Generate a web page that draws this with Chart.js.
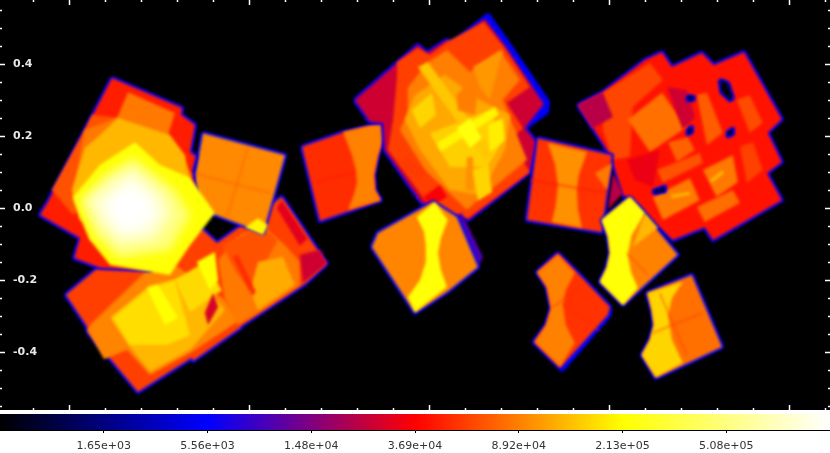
<!DOCTYPE html>
<html>
<head>
<meta charset="utf-8">
<script src="https://cdn.jsdelivr.net/npm/chart.js@4"></script>
<style>
html,body{margin:0;padding:0;background:#fff;overflow:hidden}
canvas{display:block}
#mapa{background:#000}
</style>
</head>
<body>
<canvas id="mapa" width="830" height="410"></canvas>
<canvas id="barra" width="830" height="43"></canvas>
<script>
// exposure map values, outlines are [ra, dec] in degrees, painted in list order
let raRange = [336.388, 338.694]
let decRange = [-0.561, 0.578]
let raTicks = [338.5, 338.0, 337.5, 337.0, 336.5]
let raMinorTicks = [338.6, 338.4, 338.3, 338.2, 338.1, 337.9, 337.8, 337.7, 337.6, 337.4, 337.3, 337.2, 337.1, 336.9, 336.8, 336.7, 336.6, 336.4]
let decTicks = [0.4, 0.2, 0.0, -0.2, -0.4]
let decMinorTicks = [0.55, 0.5, 0.45, 0.35, 0.3, 0.25, 0.15, 0.1, 0.05, -0.05, -0.1, -0.15, -0.25, -0.3, -0.35, -0.45, -0.5, -0.55]

let barPositions = [1, 2, 3, 4, 5, 6, 7]
let barValues = [1.65e3, 5.56e3, 1.48e4, 3.69e4, 8.92e4, 2.13e5, 5.08e5]
let barLabels = ["1.65e+03", "5.56e+03", "1.48e+04", "3.69e+04", "8.92e+04", "2.13e+05", "5.08e+05"]
let barColors = ["#000000", "#0000ff", "#ff0000", "#ffff00", "#ffffff"]

let EDGE = 5560
let westLowEdge = [[338.416,-.161],[338.511,-.241],[338.452,-.330],[338.450,-.344],[338.311,-.511],[338.161,-.416],[338.158,-.425],[338.027,-.333],[338.025,-.328],[337.847,-.211],[337.786,-.155],[337.911,.031],[337.925,.022],[338.091,-.097],[338.130,-.061],[338.250,-.061]]
let westLowExposure = [EDGE,57000,92000,130000,170000,215000,165000,215000,28000,85000,65000,120000,50000,26000,30000]
let westLowOutlines = [westLowEdge,westLowEdge,
[[338.444,-.325],[338.291,-.178],[338.208,-.158],[338.069,-.255],[338.027,-.311],[338.152,-.394],[338.277,-.464],[338.341,-.394],[338.405,-.420],[338.450,-.340]],
[[338.388,-.305],[338.277,-.214],[338.152,-.186],[338.069,-.283],[338.166,-.394],[338.277,-.455],[338.333,-.386]],
[[338.380,-.305],[338.286,-.228],[338.208,-.200],[338.166,-.353],[338.230,-.380],[338.333,-.380]],
[[338.286,-.222],[338.255,-.214],[338.199,-.305],[338.236,-.325]],
[[338.208,-.200],[338.125,-.150],[338.077,-.228],[338.166,-.289]],
[[338.147,-.150],[338.097,-.122],[338.088,-.200],[338.111,-.228]],
[[338.102,-.236],[338.088,-.275],[338.116,-.325],[338.125,-.291]],
[[338.027,-.075],[337.966,-.047],[337.902,-.103],[337.861,-.150],[337.861,-.214],[337.966,-.283],[338.033,-.325],[338.069,-.255],[338.088,-.144]],
[[338.077,-.103],[337.966,-.047],[337.922,-.089],[337.999,-.228],[338.041,-.172]],
[[337.977,-.150],[337.908,-.136],[337.875,-.214],[337.977,-.283],[337.999,-.228]],
[[338.047,-.136],[338.033,-.130],[337.983,-.233],[337.994,-.244]],
[[337.861,-.130],[337.805,-.116],[337.786,-.155],[337.852,-.208]],
[[337.925,.000],[337.911,.022],[337.840,-.085],[337.861,-.105]]]

let squareEdge = [[338.130,.208],[337.902,.147],[337.963,-.069],[338.166,.008]]
let squareExposure = [EDGE,95000,70000,70000,200000]
let squareOutlines = [squareEdge,squareEdge,
[[338.158,.097],[337.944,.042]],
[[338.005,.169],[338.063,-.025]],
[[338.013,-.053],[337.977,-.028],[337.950,-.047],[337.963,-.075]]]

let westHighEdge = [[338.383,.361],[338.188,.278],[338.191,.259],[338.152,.231],[338.166,.156],[338.150,.144],[338.161,.100],[338.138,-.005],[338.277,-.172],[338.416,-.166],[338.488,-.139],[338.472,-.083],[338.583,-.019],[338.561,.017]]
let westHighExposure = [EDGE,45000,65000,85000,130000,220000,500000,800000,1100000,1300000]
let westHighOutlines = [westHighEdge,westHighEdge,
[[338.438,.259],[338.361,.250],[338.444,.022],[338.491,-.019],[338.550,.050],[338.458,.217]],
[[338.338,.322],[338.208,.264],[338.227,.203],[338.161,.092],[338.222,-.089],[338.444,-.089],[338.494,.022],[338.458,.217],[338.369,.250]],
[[338.366,.250],[338.222,.203],[338.180,.147],[338.166,.064],[338.333,-.089],[338.472,-.033],[338.494,.050],[338.458,.167],[338.416,.203]],
[[338.319,.183],[338.250,.120],[338.166,.084],[338.097,-.014],[338.166,-.103],[338.222,-.186],[338.388,-.158],[338.444,-.089],[338.491,.031],[338.416,.120]],
[[338.324,.139],[338.208,.050],[338.166,-.019],[338.222,-.116],[338.361,-.139],[338.430,-.075],[338.472,.022],[338.402,.092]],
[[338.324,.111],[338.236,.036],[338.216,-.019],[338.263,-.089],[338.361,-.103],[338.416,-.047],[338.450,.022],[338.383,.078]],
[[338.330,.083],[338.263,.028],[338.250,-.019],[338.291,-.067],[338.355,-.075],[338.394,-.033],[338.416,.014]],
[[338.333,.056],[338.286,.017],[338.283,-.019],[338.319,-.047],[338.355,-.047],[338.380,-.011],[338.375,.022]]]

let sideEdge = [[337.855,.170],[337.744,.209],[337.633,.236],[337.625,.203],[337.644,.147],[337.655,.092],[337.652,.050],[337.636,.022],[337.805,-.036]]
let sideExposure = [EDGE,50000,90000,42000]
let sideOutlines = [sideEdge,sideEdge,
[[337.741,.211],[337.633,.236],[337.625,.203],[337.644,.147],[337.655,.092],[337.652,.050],[337.636,.022],[337.727,-.005],[337.711,.036],[337.702,.070],[337.705,.106],[337.716,.147]],
[[337.819,.072],[337.713,.097]]]

let middleEdge = [[337.708,.300],[337.533,.453],[337.508,.431],[337.452,.467],[337.436,.459],[337.338,.536],[337.283,.459],[337.172,.295],[337.175,.267],[337.236,.222],[337.202,.181],[337.222,.100],[337.394,-.033],[337.416,-.014],[337.436,-.025],[337.522,.014],[337.625,.161],[337.630,.236],[337.666,.239]]
let middleExposure = [EDGE,26000,57000,89000,118000,155000,145000,200000,230000,88000,105000,100000,35000,55000,160000,160000,190000]
let middleOutlines = [middleEdge,
[[337.708,.300],[337.533,.453],[337.508,.431],[337.452,.467],[337.436,.459],[337.347,.525],[337.291,.450],[337.183,.289],[337.236,.222],[337.202,.181],[337.222,.100],[337.394,-.033],[337.416,-.014],[337.436,-.025],[337.522,.014],[337.625,.161],[337.630,.236],[337.666,.239]],
[[337.591,.406],[337.533,.445],[337.500,.425],[337.452,.461],[337.350,.517],[337.294,.447],[337.222,.336],[337.286,.292],[337.241,.222],[337.277,.189],[337.222,.100],[337.394,-.028],[337.436,-.019],[337.513,.022],[337.616,.161],[337.602,.245],[337.591,.364]],
[[337.508,.403],[337.452,.439],[337.388,.378],[337.305,.439],[337.250,.356],[337.297,.300],[337.230,.134],[337.397,-.005],[337.513,.106],[337.583,.217],[337.561,.264],[337.561,.334]],
[[337.541,.314],[337.458,.370],[337.361,.300],[337.277,.259],[337.291,.161],[337.361,.036],[337.444,.050],[337.527,.161],[337.569,.245]],
[[337.500,.208],[337.333,.272],[337.297,.189],[337.341,.114],[337.444,.114]],
[[337.533,.392],[337.505,.406],[337.319,.147],[337.347,.133]],
[[337.480,.181],[337.319,.281],[337.308,.259],[337.469,.158]],
[[337.425,.222],[337.388,.250],[337.355,.194],[337.388,.167]],
[[337.388,.356],[337.366,.322],[337.375,.259],[337.422,.272],[337.425,.314]],
[[337.380,.392],[337.297,.439],[337.333,.300],[337.361,.336]],
[[337.397,.142],[337.380,.142],[337.377,.050],[337.400,.050]],
[[337.519,.031],[337.472,.064],[337.452,.031],[337.499,.003]],
[[337.563,.142],[337.513,.100],[337.527,.078],[337.583,.120]],
[[337.550,.272],[337.494,.320],[337.483,.259],[337.527,.222]],
[[337.380,.106],[337.338,.120],[337.327,.044],[337.366,.022]],
[[337.338,.231],[337.297,.250],[337.291,.189],[337.333,.156]]]

let centreLowEdge = [[337.661,-.108],[337.644,-.069],[337.491,.017],[337.425,-.025],[337.366,-.164],[337.452,-.233],[337.541,-.291]]
let centreLowExposure = [10000,EDGE,92000,220000]
let centreLowOutlines = [
[[337.436,-.025],[337.411,-.014],[337.352,-.136],[337.366,-.164],[337.416,-.089]],
centreLowEdge,centreLowEdge,
[[337.536,-.025],[337.486,.017],[337.450,-.033],[337.469,-.083],[337.477,-.125],[337.469,-.172],[337.452,-.219],[337.541,-.289],[337.561,-.247],[337.527,-.200],[337.511,-.150],[337.511,-.103],[337.516,-.066]]]

let eastEdge = [[337.088,.286],[337.019,.322],[336.902,.411],[336.855,.433],[336.827,.392],[336.744,.431],[336.711,.397],[336.627,.433],[336.522,.247],[336.561,.209],[336.522,.128],[336.563,.097],[336.522,.022],[336.713,-.089],[336.736,-.053],[336.825,-.089],[336.861,-.053],[336.916,.008],[336.963,.036],[336.994,.134],[337.013,.170]]
let crescentHole = [[336.694,.356],[336.672,.347],[336.658,.306],[336.666,.300],[336.689,.322]]
let holeA = [[336.783,.311],[336.766,.308],[336.769,.300],[336.783,.300]]
let holeB = [[336.783,.217],[336.772,.225],[336.772,.211],[336.783,.206]]
let holeC = [[336.672,.211],[336.658,.220],[336.658,.206],[336.672,.200]]
let holeD = [[336.880,.047],[336.847,.059],[336.847,.047],[336.875,.042]]
let eastExposure = [EDGE,42000,60000,22000,80000,26000,70000,62000,58000,72000,65000,85000,78000,85000,130000,130000,32000,EDGE,100,EDGE,100,EDGE,100,EDGE,100,EDGE,100]
let eastOutlines = [eastEdge,eastEdge,
[[337.019,.320],[336.888,.403],[336.852,.356],[336.936,.281],[336.944,.142],[336.991,.134],[337.019,.217]],
[[337.088,.286],[337.019,.320],[336.991,.253],[337.047,.222]],
[[336.950,.245],[336.855,.320],[336.786,.225],[336.888,.156]],
[[336.841,.336],[336.786,.328],[336.763,.253],[336.797,.217]],
[[336.758,.314],[336.730,.320],[336.686,.209],[336.730,.175]],
[[336.647,.300],[336.611,.314],[336.575,.236],[336.611,.209]],
[[336.638,.170],[336.602,.183],[336.575,.106],[336.619,.070]],
[[336.838,.183],[336.783,.197],[336.763,.161],[336.813,.128]],
[[336.869,.106],[336.750,.153],[336.741,.125],[336.852,.070]],
[[336.880,.031],[336.777,.083],[336.750,.022],[336.852,-.033]],
[[336.758,.003],[336.658,.050],[336.638,.014],[336.736,-.039]],
[[336.741,.106],[336.658,.147],[336.644,.072],[336.703,.031]],
[[336.722,.078],[336.686,.106],[336.683,.097],[336.716,.070]],
[[336.833,.036],[336.777,.045],[336.777,.036],[336.827,.028]],
[[336.952,.134],[336.861,.161],[336.880,.059],[336.930,.078]],
crescentHole,crescentHole,holeA,holeA,holeB,holeB,holeC,holeC,holeD,holeD]

let joinEdge = [[337.200,.194],[336.994,.147],[337.022,-.067],[337.230,-.033]]
let joinExposure = [EDGE,52000,100000,85000,42000,22000]
let joinOutlines = [joinEdge,joinEdge,
[[337.172,.181],[337.063,.156],[337.086,.092],[337.091,.050],[337.088,-.005],[337.077,-.055],[337.161,-.039],[337.150,.008],[337.144,.064],[337.152,.120]],
[[337.041,.097],[336.994,.125],[337.008,.050]],
[[337.222,.078],[337.008,.042]],
[[336.991,.097],[336.963,.042],[337.005,-.005]]]

let yellowEdge = [[336.944,.031],[336.811,-.130],[336.963,-.269],[337.027,-.205],[337.008,-.166],[336.999,-.125],[337.005,-.078],[337.022,-.033]]
let yellowExposure = [EDGE,90000,220000,130000,55000]
let yellowOutlines = [yellowEdge,yellowEdge,
[[336.944,.031],[336.902,-.014],[336.939,-.075],[336.950,-.130],[336.941,-.178],[336.922,-.222],[336.963,-.269],[337.027,-.205],[337.008,-.166],[336.999,-.125],[337.005,-.078],[337.022,-.033]],
[[336.902,-.014],[336.866,-.055],[336.936,-.108]],
[[336.952,-.125],[336.894,-.186]]]

let lowLeftEdge = [[337.144,-.125],[337.091,-.178],[336.999,-.275],[337.005,-.297],[337.138,-.444],[337.211,-.372],[337.177,-.325],[337.163,-.278],[337.175,-.219],[337.202,-.178]]
let lowLeftExposure = [EDGE,EDGE,52000,90000,50000,50000]
let lowLeftOutlines = [
[[337.097,-.386],[336.999,-.291],[337.008,-.305],[337.133,-.450]],
lowLeftEdge,lowLeftEdge,
[[337.144,-.130],[337.097,-.180],[337.122,-.228],[337.130,-.269],[337.122,-.325],[337.097,-.375],[337.138,-.441],[337.208,-.372],[337.177,-.325],[337.163,-.278],[337.175,-.219],[337.202,-.178]],
[[337.158,-.275],[337.080,-.220]],
[[337.130,-.264],[337.030,-.340]]]

let lowRightEdge = [[336.897,-.236],[336.772,-.186],[336.688,-.386],[336.872,-.472],[336.911,-.408],[336.888,-.366],[336.877,-.325],[336.883,-.283]]
let lowRightExposure = [EDGE,80000,160000,55000,55000]
let lowRightOutlines = [lowRightEdge,lowRightEdge,
[[336.894,-.236],[336.797,-.205],[336.827,-.250],[336.838,-.297],[336.827,-.366],[336.797,-.430],[336.872,-.469],[336.911,-.408],[336.888,-.366],[336.877,-.325],[336.883,-.283]],
[[336.880,-.347],[336.741,-.291]],
[[336.861,-.236],[336.786,-.408]]]

let regions = [
[westLowExposure,westLowOutlines],
[squareExposure,squareOutlines],
[westHighExposure,westHighOutlines],
[sideExposure,sideOutlines],
[middleExposure,middleOutlines],
[centreLowExposure,centreLowOutlines],
[eastExposure,eastOutlines],
[joinExposure,joinOutlines],
[yellowExposure,yellowOutlines],
[lowLeftExposure,lowLeftOutlines],
[lowRightExposure,lowRightOutlines]
]

// colour bar scale: position on the bar (0-8) for an exposure value
function posicao(v){
if(v<=barValues[0]) return v/barValues[0]
for(let i=1;i<barValues.length;i++){
if(v<=barValues[i]){
return i+Math.log(v/barValues[i-1])/Math.log(barValues[i]/barValues[i-1])
}
}
return 7+Math.log(v/barValues[6])/Math.log(barValues[6]/barValues[5])
}

function cor(v){
let p=Math.min(posicao(v)/8,1)*(barColors.length-1)
let i=Math.min(Math.floor(p),barColors.length-2)
let t=p-i
let a=hex(barColors[i]),b=hex(barColors[i+1])
return "rgb("+a.map((c,k)=>Math.round(c+(b[k]-c)*t)).join(",")+")"
}

function hex(h){
return [1,3,5].map(k=>parseInt(h.substr(k,2),16))
}

let datasets=[]
regions.forEach(([valores,contornos])=>{
contornos.forEach((contorno,i)=>{
let costura=contorno.length==2
let borda=valores[i]==EDGE
let pontos=contorno.map(p=>({x:p[0],y:p[1]}))
if(borda) pontos.push(pontos[0])
datasets.push({
data:pontos,
showLine:true,
pointRadius:0,
tension:0,
borderJoinStyle:"round",
borderWidth:costura?1:(borda?4:0),
borderColor:cor(valores[i]),
backgroundColor:cor(valores[i]),
fill:costura?false:"shape",
suave:valores[i]>300000
})
})
})
// chart.js paints the first dataset last
datasets.reverse()

function semEspaco(s){
s.width=s.isHorizontal()?s.width:0
s.height=s.isHorizontal()?0:s.height
s.paddingLeft=s.paddingRight=s.paddingTop=s.paddingBottom=0
}

let fonteEixo={family:"DejaVu Sans",size:11,weight:"bold"}

function eixoMarcas(pos,lista,tamanho,largura,faixa,texto){
return {
type:"linear",
position:pos,
reverse:pos=="top"||pos=="bottom",
min:faixa[0],
max:faixa[1],
afterBuildTicks:s=>{s.ticks=lista.map(v=>({value:v}))},
afterFit:semEspaco,
border:{display:false},
grid:{drawOnChartArea:false,tickLength:tamanho,tickWidth:largura,tickColor:"#fff"},
ticks:texto||{display:false,autoSkip:false}
}
}

// the picture is a smoothed image, so soften every patch, the hot centre more
let borrar={
id:"borrar",
beforeDatasetsDraw(chart){chart.ctx.save();chart.ctx.filter="blur(1.5px)"},
afterDatasetDraw(chart,args){
let prox=chart.data.datasets[args.index-1]
chart.ctx.filter=prox&&prox.suave?"blur(5px)":"blur(1.5px)"
},
afterDatasetsDraw(chart){chart.ctx.filter="none";chart.ctx.restore()}
}

new Chart(document.getElementById("mapa"),{
type:"scatter",
data:{datasets:datasets},
plugins:[borrar],
options:{
responsive:false,
animation:false,
devicePixelRatio:1,
layout:{padding:0},
plugins:{legend:{display:false},tooltip:{enabled:false}},
scales:{
x:eixoMarcas("bottom",raTicks,-5,1.5,raRange,{display:true,autoSkip:false,maxRotation:0,color:"#e8e8e8",font:fonteEixo,padding:-18,z:1,callback:v=>v.toFixed(1)}),
xMinor:eixoMarcas("bottom",raMinorTicks,-2,1.5,raRange),
xTop:eixoMarcas("top",raTicks,-5,1.5,raRange),
xTopMinor:eixoMarcas("top",raMinorTicks,-2,1.5,raRange),
y:eixoMarcas("left",decTicks,-5,1.5,decRange,{display:true,autoSkip:false,mirror:true,color:"#e8e8e8",font:fonteEixo,padding:13,z:1,callback:v=>v.toFixed(1)}),
yMinor:eixoMarcas("left",decMinorTicks,-2,1.5,decRange),
yRight:eixoMarcas("right",decTicks,-5,1.5,decRange),
yRightMinor:eixoMarcas("right",decMinorTicks,-2,1.5,decRange)
}
}
})

new Chart(document.getElementById("barra"),{
type:"bar",
data:{
labels:["exposure"],
datasets:[{
data:[[0,8]],
barPercentage:1,
categoryPercentage:1,
backgroundColor:c=>{
let area=c.chart.chartArea
if(!area) return "#000"
let g=c.chart.ctx.createLinearGradient(area.left,0,area.right,0)
barColors.forEach((b,i)=>g.addColorStop(i/(barColors.length-1),b))
return g
}
}]
},
options:{
indexAxis:"y",
responsive:false,
animation:false,
devicePixelRatio:1,
layout:{padding:{top:4,left:0,right:0,bottom:0}},
plugins:{legend:{display:false},tooltip:{enabled:false}},
scales:{
x:{
type:"linear",
min:0,
max:8,
afterBuildTicks:s=>{s.ticks=barPositions.map(v=>({value:v}))},
afterFit:s=>{s.height=23;s.paddingLeft=s.paddingRight=0},
border:{color:"#000",width:1},
grid:{drawOnChartArea:false,tickLength:3,tickColor:"#000"},
ticks:{autoSkip:false,maxRotation:0,padding:7,color:"#333",font:{family:"DejaVu Sans",size:11},callback:v=>barLabels[barPositions.indexOf(v)]}
},
xBorda:{
type:"linear",
position:"top",
min:0,
max:8,
afterFit:s=>{s.height=0;s.paddingLeft=s.paddingRight=0},
border:{color:"#888",width:1},
grid:{display:false},
ticks:{display:false}
},
y:{
afterFit:s=>{s.width=0;s.paddingTop=s.paddingBottom=0},
border:{display:false},
grid:{display:false},
ticks:{display:false}
},
yBorda:{
type:"linear",
position:"right",
afterFit:s=>{s.width=0},
border:{color:"#888",width:1},
grid:{display:false},
ticks:{display:false}
}
}
}
})
</script>
</body>
</html>
